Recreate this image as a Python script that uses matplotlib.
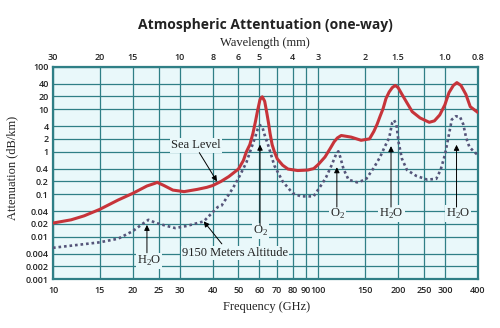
import matplotlib
matplotlib.use("Agg")
import matplotlib.pyplot as plt
from matplotlib.ticker import NullLocator

# sea level curve (GHz, dB/km)
sea_freq = [10, 11.7, 13.1, 15, 17.6, 20, 22.6, 24.2, 24.7, 26.2, 28.3, 31.2, 35, 38, 40,
            43, 46, 50, 52.2, 53.6, 55.2, 56.7, 58, 59.1, 60.3, 61.5, 62.8, 64, 64.9,
            65.8, 67, 68.3, 70, 73.4, 76.9, 83.6, 91.3, 96.1, 100, 106, 111, 114.7, 118,
            122, 133, 145, 156, 162, 166.6, 171, 175.6, 180, 185, 190, 195, 200, 206.7,
            216, 226, 242, 262, 274, 287, 300, 311, 323, 333, 345, 360, 374, 400]
sea_att = [0.021, 0.025, 0.031, 0.044, 0.073, 0.105, 0.156, 0.18, 0.19, 0.16, 0.125, 0.115, 0.13, 0.145, 0.16,
           0.2, 0.26, 0.39, 0.62, 1.0, 1.46, 2.68, 5.2, 9.5, 16.8, 19.5, 15.3, 8.0, 4.8,
           2.68, 1.46, 1.0, 0.68, 0.48, 0.39, 0.36, 0.37, 0.4, 0.5, 0.75, 1.2, 1.7, 2.1,
           2.4, 2.2, 1.85, 2.0, 3.0, 4.4, 6.8, 10.4, 17.8, 25.3, 32, 36, 32, 22.3,
           14, 8.7, 6.2, 4.9, 5.3, 7.3, 12.6, 24.5, 36, 42, 36, 22.3, 11.4, 8.3]

# 9150 m altitude curve
alt_freq = [10, 13.1, 15, 17.6, 20, 22.2, 22.9, 24.5, 26.8, 28.9, 32, 37, 41.8, 43.2,
            47.7, 50.7, 53.6, 56, 57.7, 59.1, 60.3, 61.6, 63, 64.9, 68.3, 73.4, 80, 86,
            96, 103, 107, 112, 117, 119, 121, 124.5, 130, 140, 151, 162, 171, 178, 185,
            190, 193, 197, 201, 206.7, 216, 234, 257.7, 278.4, 289, 300, 309, 318.7, 330,
            342, 352, 361, 371, 386, 398]
alt_att = [0.0055, 0.0067, 0.0074, 0.009, 0.0136, 0.022, 0.025, 0.021, 0.018, 0.016, 0.018, 0.023, 0.05, 0.054,
           0.14, 0.28, 0.56, 1.25, 2.1, 3.4, 4.2, 3.7, 2.3, 1.35, 0.47, 0.2, 0.106, 0.089,
           0.089, 0.17, 0.25, 0.465, 0.9, 1.02, 0.75, 0.39, 0.22, 0.19, 0.22, 0.42, 0.75, 1.3, 2.1,
           4.8, 5.5, 4.4, 1.6, 0.68, 0.37, 0.27, 0.22, 0.23, 0.37, 0.83, 2.1, 5.7, 6.8,
           6.6, 4.4, 2.1, 1.3, 1.0, 0.85]

freq_ticks = [10, 15, 20, 25, 30, 40, 50, 60, 70, 80, 90, 100, 150, 200, 250, 300, 400]
att_ticks = [100, 40, 20, 10, 4, 2, 1, 0.4, 0.2, 0.1, 0.04, 0.02, 0.01, 0.004, 0.002, 0.001]
att_labels = ["100", "40", "20", "10", "4", "2", "1", "0.4", "0.2", "0.1",
              "0.04", "0.02", "0.01", "0.004", "0.002", "0.001"]
wl_pos = [10, 15, 20, 30, 40, 50, 60, 80, 100, 150, 200, 300, 400]
wl_labels = ["30", "20", "15", "10", "8", "6", "5", "4", "3", "2", "1.5", "1.0", "0.8"]

teal = "#2f7f86"
bg = "#e9f8fa"
red = "#c7343a"
dots = "#55557a"
serif = "Liberation Serif"
sans = "Open Sans"

fig = plt.figure(figsize=(5, 3.28), dpi=100)
ax = fig.add_axes([0.106, 0.1485, 0.85, 0.6485])
ax.set_facecolor(bg)
ax.set_xscale("log")
ax.set_yscale("log")
ax.set_xlim(10, 400)
ax.set_ylim(0.001, 100)

ax.set_xticks(freq_ticks)
ax.set_xticklabels([str(f) for f in freq_ticks])
ax.set_yticks(att_ticks)
ax.set_yticklabels(att_labels)
ax.xaxis.set_minor_locator(NullLocator())
ax.yaxis.set_minor_locator(NullLocator())
ax.tick_params(length=0, labelsize=6.5, colors="#222222")
ax.tick_params(axis="x", pad=5)
ax.tick_params(axis="y", pad=3)
for lab in ax.get_xticklabels() + ax.get_yticklabels():
    lab.set_fontfamily(sans)
    lab.set_fontweight("semibold")

ax.grid(True, color=teal, lw=0.9)
ax.set_axisbelow(True)
for sp in ax.spines.values():
    sp.set_color(teal)
    sp.set_linewidth(1.6)

ax2 = ax.twiny()
ax2.set_xscale("log")
ax2.set_xlim(ax.get_xlim())
ax2.set_xticks(wl_pos)
ax2.set_xticklabels(wl_labels)
ax2.xaxis.set_minor_locator(NullLocator())
ax2.tick_params(length=0, labelsize=6.5, colors="#222222", pad=3)
for lab in ax2.get_xticklabels():
    lab.set_fontfamily(sans)
    lab.set_fontweight("semibold")
for sp in ax2.spines.values():
    sp.set_visible(False)

ax.plot(sea_freq, sea_att, color=red, lw=2.2, solid_capstyle="round",
        solid_joinstyle="round", zorder=4)
ax.plot(alt_freq, alt_att, color=dots, lw=1.9, linestyle=(0, (1, 1.1)), zorder=4)

box = dict(fc=bg, ec="none", pad=0.8)
arrow = dict(arrowstyle="-|>", color="black", lw=0.7, mutation_scale=8, shrinkA=0, shrinkB=0)
txt = dict(ha="center", va="center", family=serif, fontsize=9, color="#222222", bbox=box, zorder=5)

ax.text(34.5, 1.4, "Sea Level", **txt)
ax.annotate("", xy=(41.5, 0.2), xytext=(35.6, 0.95), arrowprops=arrow, zorder=5)

ax.text(48.5, 0.0041, "9150 Meters Altitude", **txt)
ax.annotate("", xy=(37, 0.023), xytext=(43.3, 0.0068), arrowprops=arrow, zorder=5)

ax.text(23, 0.0027, "H$_\\mathregular{2}$O", **txt)
ax.annotate("", xy=(22.6, 0.019), xytext=(22.6, 0.0042), arrowprops=arrow, zorder=5)

ax.text(60.6, 0.0136, "O$_\\mathregular{2}$", **txt)
ax.annotate("", xy=(60.3, 1.46), xytext=(60.3, 0.019), arrowprops=arrow, zorder=5)

ax.text(118, 0.035, "O$_\\mathregular{2}$", **txt)
ax.annotate("", xy=(117.5, 0.43), xytext=(117.5, 0.05), arrowprops=arrow, zorder=5)

ax.text(189, 0.035, "H$_\\mathregular{2}$O", **txt)
ax.annotate("", xy=(188, 1.35), xytext=(188, 0.05), arrowprops=arrow, zorder=5)

ax.text(336, 0.035, "H$_\\mathregular{2}$O", **txt)
ax.annotate("", xy=(332, 1.45), xytext=(332, 0.05), arrowprops=arrow, zorder=5)

fig.text(0.53, 0.924, "Atmospheric Attentuation (one-way)", ha="center", va="center",
         family=sans, fontweight="bold", fontsize=10, color="#222222")
fig.text(0.53, 0.869, "Wavelength (mm)", ha="center", va="center", family=serif,
         fontsize=9, color="#222222")
fig.text(0.533, 0.0655, "Frequency (GHz)", ha="center", va="center", family=serif,
         fontsize=9, color="#222222")
fig.text(0.024, 0.488, "Attenuation (dB/km)", ha="center", va="center", rotation=90,
         family=serif, fontsize=9, color="#222222")

fig.savefig("out.png", dpi=100, facecolor="white")
